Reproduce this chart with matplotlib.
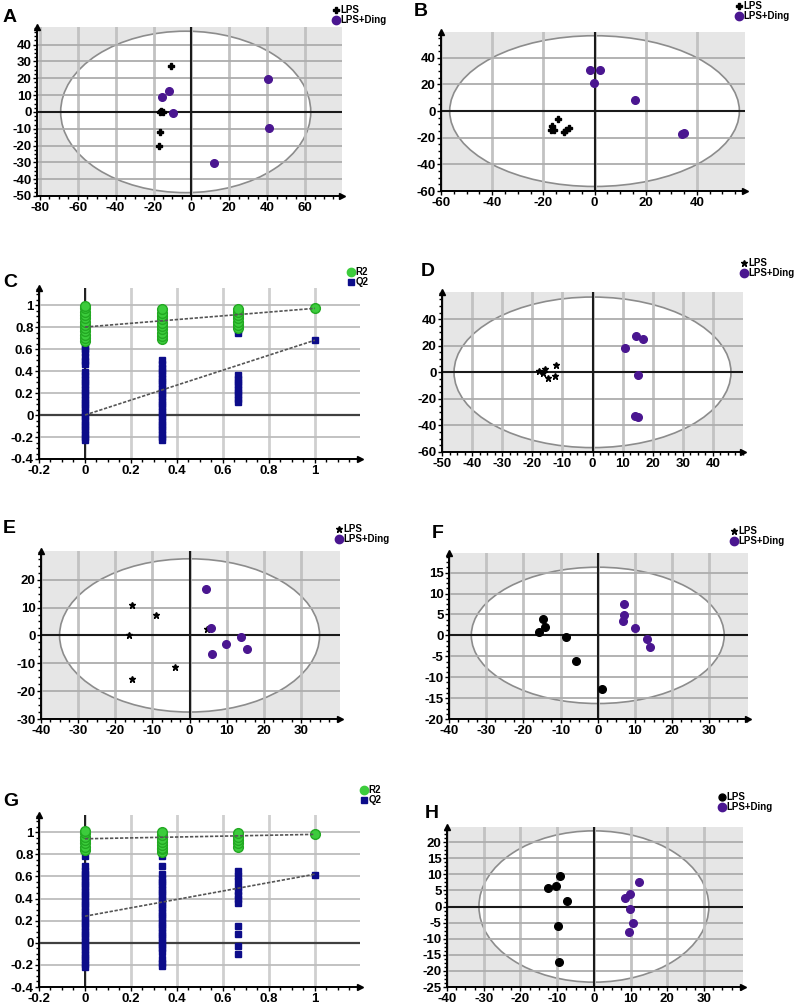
import matplotlib.pyplot as plt
from matplotlib.patches import Ellipse
from matplotlib.lines import Line2D
from matplotlib.ticker import AutoMinorLocator

plt.rcParams['font.family'] = ['Liberation Sans', 'DejaVu Sans']

# ---- score plots (A, B, D, E, F, H) ----
A_lps_x = [-10.7, -16.5, -15.0, -16.7, -17.0, -16.0]
A_lps_y = [27.4, 0.0, 0.0, -12.1, -20.0, 0.3]
A_ding_x = [40.7, 41.2, -11.7, -15.6, -9.6, 11.7]
A_ding_y = [19.5, -9.5, 12.5, 8.8, -0.4, -30.5]

B_lps_x = [-14.1, -16.5, -16.9, -15.9, -12.0, -10.0, -11.0]
B_lps_y = [-5.6, -11.4, -13.9, -13.9, -15.7, -12.7, -13.9]
B_ding_x = [-1.8, 2.1, -0.3, 15.9, 34.2, 35.1]
B_ding_y = [30.9, 30.9, 21.0, 8.4, -17.2, -16.7]

D_lps_x = [-17.7, -15.8, -14.9, -16.3, -12.1, -12.3]
D_lps_y = [1.0, 2.5, -4.0, -0.8, 5.5, -2.5]
D_ding_x = [10.7, 14.3, 16.8, 15.0, 14.1, 15.0]
D_ding_y = [18.5, 27.0, 25.0, -1.8, -32.8, -33.3]

E_lps_x = [-15.6, -9.1, -16.3, -3.8, -15.5, 4.7]
E_lps_y = [10.9, 7.2, 0.1, -11.4, -15.7, 2.3]
E_ding_x = [4.3, 5.9, 13.9, 9.8, 15.5, 6.1]
E_ding_y = [16.6, 2.7, -0.7, -3.0, -4.8, -6.5]

F_lps_x = [-14.7, -14.3, -15.9, -8.5, -5.8, 1.2]
F_lps_y = [3.95, 1.9, 0.8, -0.4, -6.2, -12.9]
F_ding_x = [7.1, 7.0, 6.8, 10.0, 13.2, 14.1]
F_ding_y = [7.5, 4.9, 3.5, 1.7, -0.9, -2.9]

H_lps_x = [-9.1, -10.4, -12.4, -7.3, -9.7, -9.5]
H_lps_y = [9.5, 6.5, 5.9, 1.8, -6.2, -17.3]
H_ding_x = [12.3, 9.8, 8.4, 9.7, 10.6, 9.6]
H_ding_y = [7.6, 4.0, 2.5, -0.7, -5.2, -7.9]

# Hotelling ellipses: (centre x, half width, half height)
A_ell = (-3.0, 66.0, 48.0)
B_ell = (0.0, 56.6, 56.6)
D_ell = (0.0, 46.0, 56.7)
E_ell = (0.0, 35.0, 27.5)
F_ell = (0.0, 34.0, 16.3)
H_ell = (0.0, 31.3, 23.5)

# ---- permutation tests (C, G) ----
perm_x = [0.0, 0.333, 0.667, 1.0]

C_r2 = [[0.67, 0.70, 0.73, 0.76, 0.79, 0.82, 0.85, 0.88, 0.91, 0.94, 0.97, 0.99],
        [0.69, 0.72, 0.75, 0.78, 0.81, 0.84, 0.87, 0.90, 0.93, 0.96],
        [0.79, 0.82, 0.85, 0.88, 0.91, 0.94, 0.96],
        [0.97]]
C_q2 = [[-0.23, -0.20, -0.17, -0.14, -0.11, -0.08, -0.05, -0.02, 0.00, 0.03, 0.06,
         0.09, 0.12, 0.15, 0.18, 0.21, 0.24, 0.27, 0.30, 0.33, 0.36, 0.39, 0.46,
         0.49, 0.53, 0.57, 0.60, 0.63, 0.66],
        [-0.23, -0.20, -0.17, -0.14, -0.11, -0.08, -0.05, -0.02, 0.01, 0.04, 0.07,
         0.10, 0.13, 0.16, 0.19, 0.22, 0.25, 0.28, 0.31, 0.34, 0.37, 0.40, 0.43,
         0.46, 0.50],
        [0.12, 0.15, 0.18, 0.21, 0.24, 0.27, 0.30, 0.33, 0.36, 0.75, 0.77],
        [0.68]]
C_r2_line = [0.80, 0.97]
C_q2_line = [0.00, 0.68]

G_r2 = [[0.84, 0.87, 0.90, 0.93, 0.96, 0.99, 1.01],
        [0.82, 0.85, 0.86, 0.88, 0.91, 0.94, 0.97, 1.00],
        [0.87, 0.90, 0.93, 0.96, 0.99],
        [0.98]]
G_q2 = [[-0.22, -0.19, -0.16, -0.13, -0.10, -0.07, -0.04, -0.01, 0.02, 0.05, 0.08,
         0.11, 0.14, 0.17, 0.20, 0.23, 0.26, 0.29, 0.32, 0.35, 0.38, 0.41, 0.44,
         0.47, 0.50, 0.53, 0.56, 0.59, 0.62, 0.65, 0.69, 0.78],
        [-0.21, -0.18, -0.15, -0.08, -0.05, -0.02, 0.01, 0.04, 0.07, 0.10, 0.13,
         0.16, 0.19, 0.22, 0.25, 0.28, 0.31, 0.34, 0.37, 0.40, 0.43, 0.46, 0.49,
         0.52, 0.55, 0.58, 0.62, 0.69, 0.78],
        [-0.10, -0.03, 0.08, 0.15, 0.36, 0.40, 0.43, 0.47, 0.50, 0.56, 0.60, 0.65],
        [0.61]]
G_r2_line = [0.94, 0.98]
G_q2_line = [0.24, 0.62]

perm_xticks = [-0.2, 0, 0.2, 0.4, 0.6, 0.8, 1]
perm_yticks = [-0.4, -0.2, 0, 0.2, 0.4, 0.6, 0.8, 1]

W, H = 798, 1008
PURPLE = '#4a1690'
NAVY = '#0c0c8a'
GREEN = '#3ccc3c'


def place(fig, l, r, t, b):
    return fig.add_axes([l / W, 1 - b / H, (r - l) / W, (b - t) / H])


def base_axes(ax, xlim, ylim, xticks, yticks, face):
    ax.set_facecolor(face)
    ax.set_xlim(xlim)
    ax.set_ylim(ylim)
    ax.set_xticks(xticks)
    ax.set_yticks(yticks)
    ax.set_xticklabels([f'{v:g}' for v in xticks])
    ax.set_yticklabels([f'{v:g}' for v in yticks])
    ax.xaxis.set_minor_locator(AutoMinorLocator(4))
    ax.yaxis.set_minor_locator(AutoMinorLocator(4))
    for s in ['top', 'right']:
        ax.spines[s].set_visible(False)
    for s in ['left', 'bottom']:
        ax.spines[s].set_linewidth(1.4)
    ax.tick_params(which='both', direction='out', width=1, pad=1, labelsize=9.5)
    ax.tick_params(which='major', length=3)
    ax.tick_params(which='minor', length=2)
    for lab in ax.get_xticklabels() + ax.get_yticklabels():
        lab.set_fontweight('bold')
    ax.set_axisbelow(True)
    ax.grid(True, axis='x', color='#c2c2c2', lw=2.0)
    ax.grid(True, axis='y', color='#adadad', lw=1.3)
    ax.plot(1, 0, '>', color='k', ms=5, transform=ax.transAxes, clip_on=False)
    ax.plot(0, 1, '^', color='k', ms=5, transform=ax.transAxes, clip_on=False)


def legend_at(ax, handles, labels, x, y):
    ax.legend(handles, labels, loc='upper left', bbox_to_anchor=(x / W, 1 - y / H),
              bbox_transform=ax.figure.transFigure, frameon=False,
              prop={'size': 7, 'weight': 'bold'}, handlelength=0.6,
              handletextpad=0.2, borderpad=0, borderaxespad=0, labelspacing=0.05)


def score_panel(fig, box, lx, ly, dx, dy, ell, xlim, ylim, xticks, yticks,
                lps_marker, lps_ms, leg_marker, leg_xy):
    ax = place(fig, *box)
    base_axes(ax, xlim, ylim, xticks, yticks, '#e6e6e6')
    cx, a, b = ell
    ax.add_patch(Ellipse((cx, 0), 2 * a, 2 * b, facecolor='white',
                         edgecolor='#8c8c8c', lw=1.2, zorder=0.3))
    ax.axhline(0, color='#1a1a1a', lw=1.5, zorder=1)
    ax.axvline(0, color='#1a1a1a', lw=1.5, zorder=1)
    ax.plot(lx, ly, lps_marker, color='k', ms=lps_ms, ls='none', zorder=3)
    ax.plot(dx, dy, 'o', color=PURPLE, ms=5.5, ls='none', zorder=3)
    h1 = Line2D([], [], marker=leg_marker, color='k', ls='none', ms=5)
    h2 = Line2D([], [], marker='o', color=PURPLE, ls='none', ms=6)
    legend_at(ax, [h1, h2], ['LPS', 'LPS+Ding'], *leg_xy)
    return ax


def perm_panel(fig, box, r2, q2, r2_line, q2_line, leg_xy):
    ax = place(fig, *box)
    base_axes(ax, (-0.2, 1.196), (-0.4, 1.155), perm_xticks, perm_yticks, 'white')
    ax.grid(True, axis='x', color='#cfcfcf', lw=2.0)
    ax.grid(True, axis='y', color='#bdbdbd', lw=1.3)
    ax.axhline(0, color='#404040', lw=1.6, zorder=1)
    ax.axvline(0, color='k', lw=1.2, zorder=1)
    for x, vals in zip(perm_x, q2):
        ax.plot([x] * len(vals), vals, 's', color=NAVY, ms=4.8, ls='none', zorder=3)
    for x, vals in zip(perm_x, r2):
        ax.plot([x] * len(vals), vals, 'o', color=GREEN, mec='#22a822', ms=7,
                ls='none', zorder=4)
    ax.plot([perm_x[0], perm_x[-1]], r2_line, color='#555555', lw=1.2,
            ls=(0, (2, 1)), zorder=5)
    ax.plot([perm_x[0], perm_x[-1]], q2_line, color='#555555', lw=1.2,
            ls=(0, (2, 1)), zorder=5)
    h1 = Line2D([], [], marker='o', color=GREEN, ls='none', ms=6)
    h2 = Line2D([], [], marker='s', color=NAVY, ls='none', ms=5)
    legend_at(ax, [h1, h2], ['R2', 'Q2'], *leg_xy)
    return ax


fig = plt.figure(figsize=(7.98, 10.08), dpi=100)

score_panel(fig, (37, 342, 27, 196), A_lps_x, A_lps_y, A_ding_x, A_ding_y, A_ell,
            (-81.5, 79.5), (-50, 50.5), list(range(-80, 61, 20)), list(range(-50, 41, 10)),
            'P', 5, 'P', (333, 5))
score_panel(fig, (441, 745, 32, 191), B_lps_x, B_lps_y, B_ding_x, B_ding_y, B_ell,
            (-60, 58.8), (-60, 59.4), list(range(-60, 41, 20)), list(range(-60, 41, 20)),
            'P', 5, 'P', (736, 1))
perm_panel(fig, (39, 360, 288, 459), C_r2, C_q2, C_r2_line, C_q2_line, (348, 267))
score_panel(fig, (442, 743, 292, 452), D_lps_x, D_lps_y, D_ding_x, D_ding_y, D_ell,
            (-50, 50), (-60, 60.5), list(range(-50, 41, 10)), list(range(-60, 41, 20)),
            '*', 5, '*', (741, 258))
score_panel(fig, (41, 340, 551, 719), E_lps_x, E_lps_y, E_ding_x, E_ding_y, E_ell,
            (-40, 40.5), (-30, 30.3), list(range(-40, 31, 10)), list(range(-30, 21, 10)),
            '*', 4.5, '*', (336, 524))
score_panel(fig, (449, 748, 553, 719), F_lps_x, F_lps_y, F_ding_x, F_ding_y, F_ell,
            (-40, 40.4), (-20, 19.7), list(range(-40, 31, 10)), list(range(-20, 16, 5)),
            'o', 5.5, '*', (731, 526))
perm_panel(fig, (39, 360, 815, 987), G_r2, G_q2, G_r2_line, G_q2_line, (361, 785))
score_panel(fig, (447, 743, 827, 987), H_lps_x, H_lps_y, H_ding_x, H_ding_y, H_ell,
            (-40, 40.6), (-25, 24.7), list(range(-40, 31, 10)), list(range(-25, 21, 5)),
            'o', 5.5, 'o', (719, 792))

panel_pos = {'A': (3, 9), 'B': (414, 3), 'C': (3, 274), 'D': (421, 263),
             'E': (3, 520), 'F': (432, 525), 'G': (3, 793), 'H': (425, 805)}
for letter, (px, py) in panel_pos.items():
    fig.text(px / W, 1 - py / H, letter, fontsize=14, fontweight='bold', va='top')

fig.savefig('out.png', dpi=100)
